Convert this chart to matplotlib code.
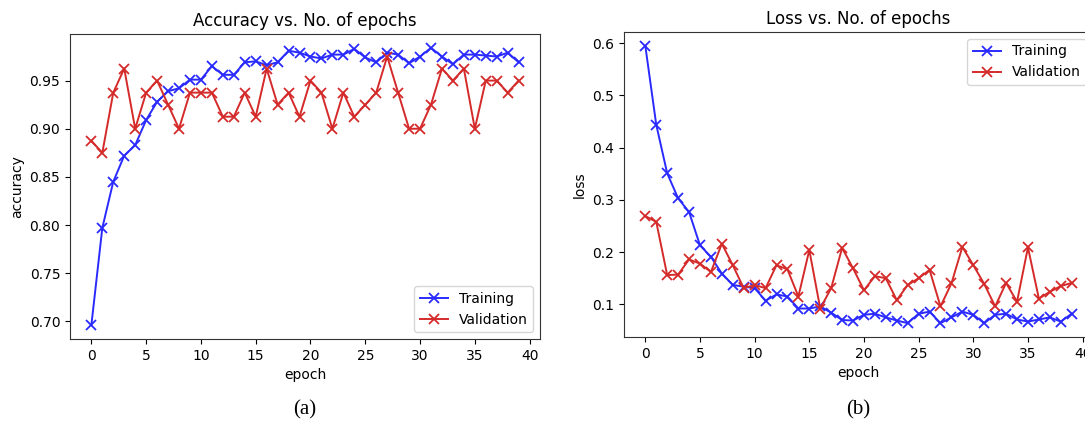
import matplotlib
matplotlib.use("Agg")
import matplotlib.pyplot as plt
import numpy as np

epochs = list(range(40))

train_acc = [0.696, 0.797, 0.845, 0.872, 0.883, 0.909, 0.928, 0.939, 0.942, 0.951,
             0.951, 0.965, 0.956, 0.956, 0.969, 0.970, 0.966, 0.969, 0.981, 0.979,
             0.975, 0.973, 0.977, 0.977, 0.983, 0.974, 0.969, 0.979, 0.977, 0.968,
             0.975, 0.984, 0.975, 0.967, 0.977, 0.977, 0.976, 0.975, 0.979, 0.969]
val_acc = [0.8875, 0.875, 0.9375, 0.9625, 0.900, 0.9375, 0.950, 0.925, 0.900, 0.9375,
           0.9375, 0.9375, 0.9125, 0.9125, 0.9375, 0.9125, 0.9625, 0.925, 0.9375, 0.9125,
           0.950, 0.9375, 0.900, 0.9375, 0.9125, 0.925, 0.9375, 0.975, 0.9375, 0.900,
           0.900, 0.925, 0.9625, 0.950, 0.9625, 0.900, 0.950, 0.950, 0.9375, 0.950]

train_loss = [0.595, 0.444, 0.351, 0.303, 0.277, 0.213, 0.191, 0.159, 0.137, 0.134,
              0.131, 0.107, 0.119, 0.115, 0.092, 0.092, 0.096, 0.084, 0.070, 0.069,
              0.080, 0.082, 0.075, 0.069, 0.064, 0.082, 0.086, 0.064, 0.075, 0.086,
              0.080, 0.064, 0.080, 0.082, 0.071, 0.067, 0.071, 0.075, 0.067, 0.082]
val_loss = [0.269, 0.258, 0.156, 0.157, 0.186, 0.178, 0.162, 0.216, 0.175, 0.131,
            0.137, 0.131, 0.175, 0.167, 0.115, 0.204, 0.092, 0.131, 0.208, 0.169,
            0.127, 0.154, 0.150, 0.108, 0.137, 0.150, 0.166, 0.096, 0.140, 0.210,
            0.175, 0.139, 0.096, 0.141, 0.105, 0.209, 0.111, 0.124, 0.135, 0.141]

blue = '#2a2aff'
red = '#d42a2a'

W, H = 1085, 428
fig = plt.figure(figsize=(W / 100, H / 100), dpi=100)

def px_axes(x0, x1, y0, y1):
    return fig.add_axes([x0 / W, 1 - y1 / H, (x1 - x0) / W, (y1 - y0) / H])

ax1 = px_axes(70, 540, 34, 339)
ax2 = px_axes(624, 1093, 32, 337)

lw, ms = 1.4, 6.5
ax1.plot(epochs, train_acc, '-x', color=blue, lw=lw, ms=ms, mew=1.3, label='Training')
ax1.plot(epochs, val_acc, '-x', color=red, lw=lw, ms=ms, mew=1.3, label='Validation')
ax1.set_xlabel('epoch')
ax1.set_ylabel('accuracy')
ax1.set_title('Accuracy vs. No. of epochs', fontsize=12)
ax1.set_xticks(range(0, 41, 5))
ax1.set_yticks([0.70, 0.75, 0.80, 0.85, 0.90, 0.95])
ax1.yaxis.set_major_formatter(matplotlib.ticker.FormatStrFormatter('%.2f'))
ax1.legend(loc='lower right')

ax2.plot(epochs, train_loss, '-x', color=blue, lw=lw, ms=ms, mew=1.3, label='Training')
ax2.plot(epochs, val_loss, '-x', color=red, lw=lw, ms=ms, mew=1.3, label='Validation')
ax2.set_xlabel('epoch')
ax2.set_ylabel('loss')
ax2.set_title('Loss vs. No. of epochs', fontsize=12)
ax2.set_xticks(range(0, 41, 5))
ax2.set_yticks([0.1, 0.2, 0.3, 0.4, 0.5, 0.6])
ax2.legend(loc='upper right')

for ax in (ax1, ax2):
    for s in ax.spines.values():
        s.set_color('#333333')

fig.text(305 / W, 1 - 410 / H, '(a)', family='Liberation Serif', fontsize=15,
         ha='center', va='center')
fig.text(858 / W, 1 - 410 / H, '(b)', family='Liberation Serif', fontsize=15,
         ha='center', va='center')

fig.savefig('out.png', dpi=100)
